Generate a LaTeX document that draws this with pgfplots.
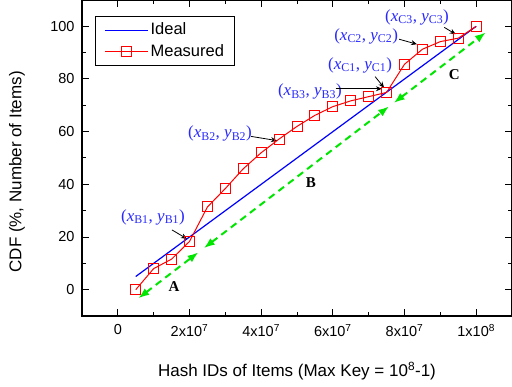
\documentclass[border=0pt]{standalone}
\usepackage{pgfplots}
\pgfplotsset{compat=1.18}
\usepackage{fontspec}
\setmainfont{Liberation Sans}
\newfontfamily\serif{Liberation Serif}
\usetikzlibrary{arrows.meta}
\definecolor{lblue}{RGB}{40,40,255}
\definecolor{lgreen}{RGB}{0,230,0}
\newcommand{\lab}[1]{{\serif\fontsize{17bp}{20bp}\selectfont(\textit{x}\textsubscript{#1}, \textit{y}\textsubscript{#1})}}
\begin{document}
\begin{tikzpicture}
\begin{axis}[
  scale only axis, width=430bp, height=316bp,
  xmin=-1e7, xmax=1.1e8, ymin=-10, ymax=110,
  scaled x ticks=false,
  xtick={0,2e7,4e7,6e7,8e7,1e8},
  xticklabels={0, 2x10\textsuperscript{7}, 4x10\textsuperscript{7}, 6x10\textsuperscript{7}, 8x10\textsuperscript{7}, 1x10\textsuperscript{8}},
  ytick={0,20,...,100},
  minor x tick num=1, minor y tick num=1,
  tick align=inside, xtick pos=both, ytick pos=both,
  major tick length=7bp, minor tick length=4bp,
  every tick/.style={black, line width=1bp},
  axis line style={line width=1.3bp},
  tick label style={font=\fontsize{14.5bp}{16bp}\selectfont},
  xticklabel style={yshift=-5bp},
  yticklabel style={xshift=-4bp},
  /pgf/number format/assume math mode=true,
  xlabel={Hash IDs of Items (Max Key = 10\textsuperscript{8}-1)},
  ylabel={CDF (\%, Number of Items)},
  label style={font=\fontsize{17bp}{20bp}\selectfont},
  xlabel style={at={(rel axis cs:0.5,0)}, anchor=center, yshift=-55bp},
  ylabel style={at={(rel axis cs:0,0.456)}, anchor=center, yshift=65bp},
  legend style={at={(axis description cs:0.03,0.949)}, anchor=north west, draw=black, line width=1bp,
    font=\fontsize{16.5bp}{18bp}\selectfont, inner xsep=9bp, inner ysep=4bp,
    nodes={inner sep=2bp, text height=12bp, text depth=3.5bp}, row sep=2bp},
  legend cell align=left,
  legend image code/.code={\draw[mark repeat=2,mark phase=2,#1] plot coordinates {(0bp,0bp) (21.5bp,0bp) (43bp,0bp)};},
]
\addplot[blue, line width=1.2bp, no marks] coordinates {(0.5e7,5) (1e8,100)};
\addlegendentry{Ideal}
\addplot[red, line width=1bp, mark=square, mark size=5bp, mark options={line width=1bp, fill=none}] coordinates {
(0.5e7,0) (1e7,8) (1.5e7,11.6) (2e7,18.3) (2.5e7,31.4) (3e7,38.4) (3.5e7,45.9) (4e7,52)
(4.5e7,57.2) (5e7,62) (5.5e7,66.2) (6e7,69.5) (6.5e7,71.7) (7e7,73.3) (7.5e7,74.9)
(8e7,85.6) (8.5e7,91.3) (9e7,94.2) (9.5e7,95.5) (1e8,100)};
\addlegendentry{Measured}
\addplot[lgreen, line width=2bp, dash pattern=on 7bp off 5bp, {Latex[length=11bp,width=8bp]}-{Latex[length=11bp,width=8bp]}, forget plot] coordinates {(0.57e7,-3.3) (2.25e7,14.2)};
\addplot[lgreen, line width=2bp, dash pattern=on 7bp off 5bp, {Latex[length=11bp,width=8bp]}-{Latex[length=11bp,width=8bp]}, forget plot] coordinates {(2.40e7,15.75) (7.57e7,69.6)};
\addplot[lgreen, line width=2bp, dash pattern=on 7bp off 5bp, {Latex[length=11bp,width=8bp]}-{Latex[length=11bp,width=8bp]}, forget plot] coordinates {(7.70e7,70.9) (10.27e7,97.7)};
\node[font=\serif\bfseries\fontsize{15bp}{18bp}\selectfont] at (axis cs:1.57e7,1.1) {A};
\node[font=\serif\bfseries\fontsize{15bp}{18bp}\selectfont] at (axis cs:5.39e7,40.6) {B};
\node[font=\serif\bfseries\fontsize{15bp}{18bp}\selectfont] at (axis cs:9.39e7,81.8) {C};
\node[text=lblue, inner sep=0pt] at (axis cs:0.98e7,27.6) {\lab{B1}};
\node[text=lblue, inner sep=0pt] at (axis cs:2.85e7,59.3) {\lab{B2}};
\node[text=lblue, inner sep=0pt] at (axis cs:5.36e7,75.3) {\lab{B3}};
\node[text=lblue, inner sep=0pt] at (axis cs:6.76e7,85.2) {\lab{C1}};
\node[text=lblue, inner sep=0pt] at (axis cs:6.93e7,96.2) {\lab{C2}};
\node[text=lblue, inner sep=0pt] at (axis cs:8.35e7,103.5) {\lab{C3}};
\draw[-{Stealth[length=6bp,width=5bp]}, line width=0.8bp] (axis cs:1.51e7,22.7) -- (axis cs:1.93e7,19.3);
\draw[-{Stealth[length=6bp,width=5bp]}, line width=0.8bp] (axis cs:3.72e7,58.2) -- (axis cs:4.44e7,56.6);
\draw[-{Stealth[length=6bp,width=5bp]}, line width=0.8bp] (axis cs:6.08e7,76.3) -- (axis cs:7.37e7,76.3);
\draw[-{Stealth[length=6bp,width=5bp]}, line width=0.8bp] (axis cs:7.18e7,80.9) -- (axis cs:7.43e7,76.7);
\draw[-{Stealth[length=6bp,width=5bp]}, line width=0.8bp] (axis cs:7.85e7,95.1) -- (axis cs:8.35e7,93.2);
\draw[-{Stealth[length=6bp,width=5bp]}, line width=0.8bp] (axis cs:9.11e7,99.6) -- (axis cs:9.43e7,97);
\end{axis}
\pgfresetboundingbox
\path ([xshift=-82bp,yshift=-71bp]current axis.south west) rectangle (current axis.north east);
\end{tikzpicture}
\end{document}
